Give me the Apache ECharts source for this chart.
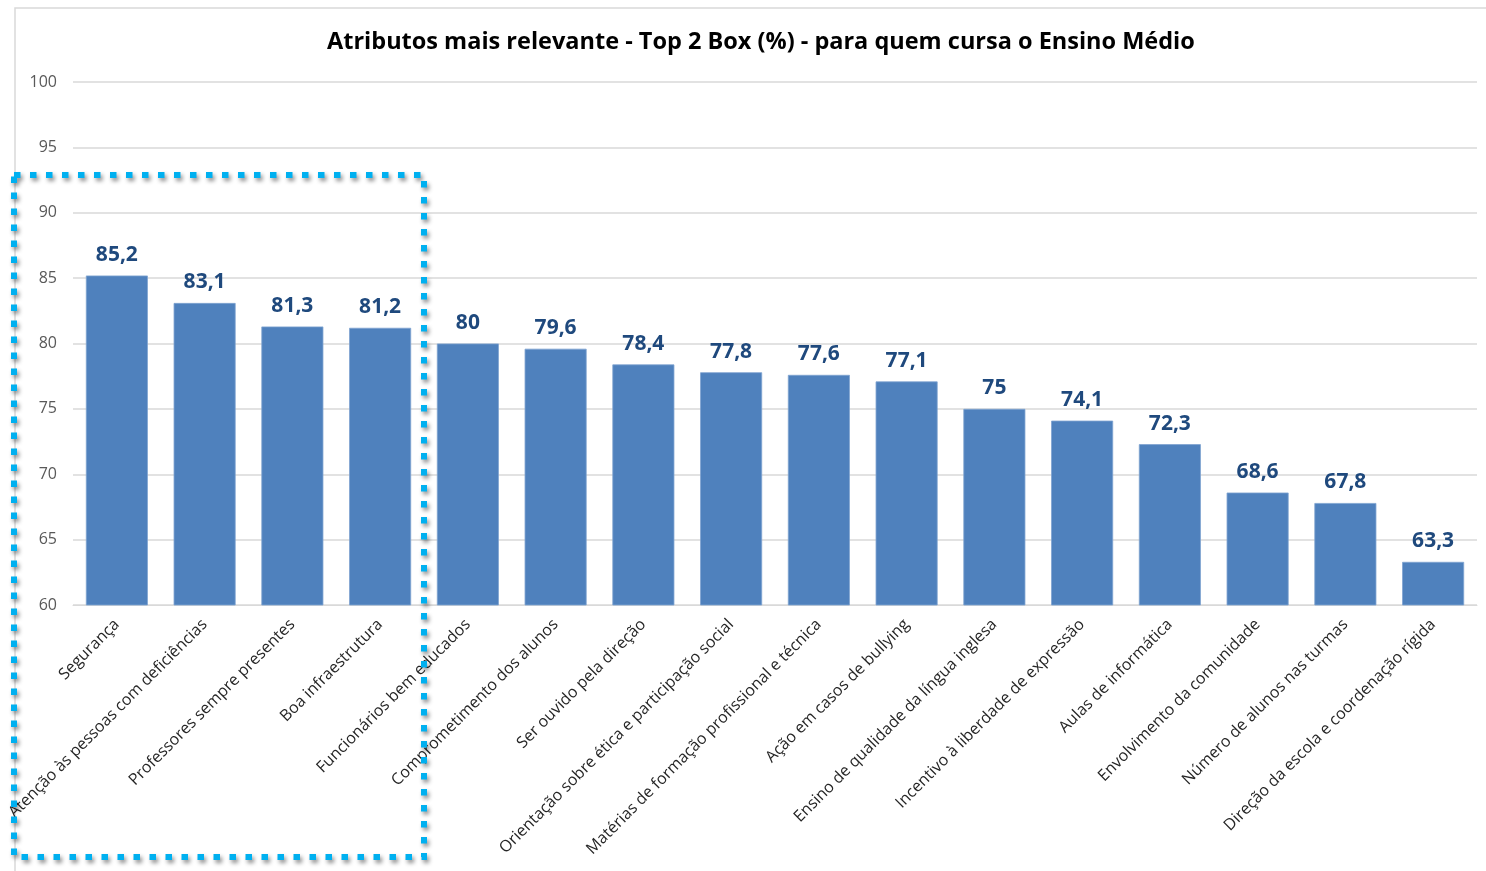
<!DOCTYPE html>
<html><head><meta charset="utf-8">
<script src="https://cdn.jsdelivr.net/npm/echarts@6/dist/echarts.min.js"></script>
<style>html,body{margin:0;padding:0;background:#fff}#c{width:1486px;height:871px}</style>
</head><body><div id="c"></div>
<script>
const categories = ["Segurança","Atenção às pessoas com deficiências","Professores sempre presentes","Boa infraestrutura","Funcionários bem educados","Comprometimento dos alunos","Ser ouvido pela direção","Orientação sobre ética e participação social","Matérias de formação profissional e técnica","Ação em casos de bullying","Ensino de qualidade da língua inglesa","Incentivo à liberdade de expressão","Aulas de informática","Envolvimento da comunidade","Número de alunos nas turmas","Direção da escola e coordenação rígida"];
const values = [85.2,83.1,81.3,81.2,80,79.6,78.4,77.8,77.6,77.1,75,74.1,72.3,68.6,67.8,63.3];
const titleText = "Atributos mais relevante - Top 2 Box (%) - para quem cursa o Ensino Médio";

const chart = echarts.init(document.getElementById('c'));
const font = "'Open Sans', 'Noto Sans', sans-serif";
chart.setOption({
  animation:false,
  title:{text:titleText,left:322,top:25,textStyle:{fontFamily:font,fontSize:23.5,fontWeight:'bold',color:'#000'}},
  grid:{left:73,right:9,top:82,bottom:266,containLabel:false},
  xAxis:{type:'category',data:categories,
    axisLine:{lineStyle:{color:'#d9d9d9'}},axisTick:{show:false},
    axisLabel:{rotate:45,interval:0,fontFamily:font,fontSize:16,color:'#262626',margin:17}},
  yAxis:{type:'value',min:60,max:100,interval:5,
    axisLine:{show:false},axisTick:{show:false},
    splitLine:{lineStyle:{color:'#d9d9d9',width:1.5}},
    axisLabel:{fontFamily:font,fontSize:16,color:'#595959',margin:16}},
  series:[{type:'bar',data:values,barWidth:62,
    itemStyle:{color:'#4F81BD',borderColor:'#7fa3d0',borderWidth:0.8},
    label:{show:true,position:'top',distance:10,fontFamily:font,fontSize:21,fontWeight:'bold',color:'#1F497D',
      formatter:p=>String(p.value).replace('.',',')}}],
  graphic:[
    {type:'rect',shape:{x:15,y:8,width:1480,height:880},style:{fill:'none',stroke:'#d9d9d9',lineWidth:1.5},silent:true,z:-1},
    {type:'rect',shape:{x:14,y:175,width:410,height:682},
      style:{fill:'none',stroke:'#00B0F0',lineWidth:6,lineDash:[6.5,9.5],
        shadowBlur:4,shadowColor:'rgba(0,0,0,0.45)',shadowOffsetX:2,shadowOffsetY:3},silent:true,z:100}
  ]
});
</script></body></html>
